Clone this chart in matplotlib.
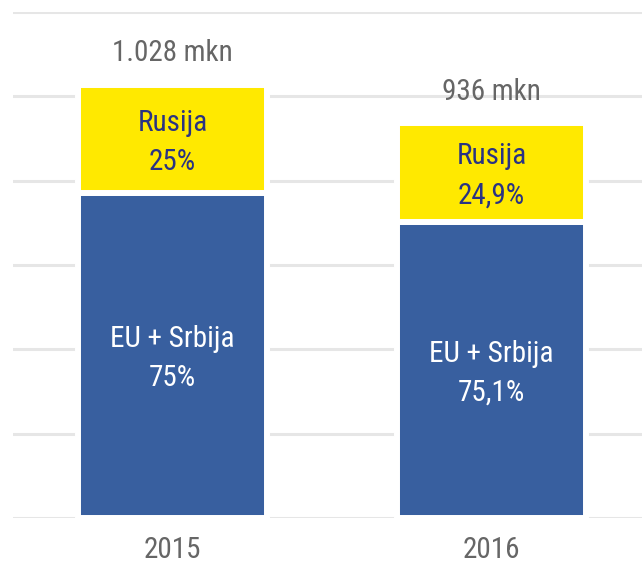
import matplotlib
matplotlib.use("Agg")
import matplotlib.pyplot as plt
from matplotlib import font_manager

years = ["2015", "2016"]
totals = [1028, 936]
eu_share = [75.0, 75.1]
ru_share = [25.0, 24.9]
total_labels = ["1.028 mkn", "936 mkn"]
eu_labels = ["EU + Srbija\n75%", "EU + Srbija\n75,1%"]
ru_labels = ["Rusija\n25%", "Rusija\n24,9%"]
yticks = [0, 200, 400, 600, 800, 1000, 1200]

available = {f.name for f in font_manager.fontManager.ttflist}
family = "Roboto"
for cand in ["Roboto Condensed", "Liberation Sans Narrow"]:
    if cand in available:
        family = cand
        break
plt.rcParams["font.family"] = [family, "DejaVu Sans"]

BLUE = "#385f9f"
YELLOW = "#ffe900"
NAVY = "#2a3383"
GRAY = "#666666"
GRID = "#e6e6e6"

fig = plt.figure(figsize=(6.42, 5.67), dpi=100)
ax = fig.add_axes([13 / 642, 49 / 567, 1 - 13 / 642, (518 - 12) / 567])

x = list(range(len(years)))
eu_vals = [t * s / 100 for t, s in zip(totals, eu_share)]
ru_vals = [t - e for t, e in zip(totals, eu_vals)]

width = 0.593
ax.bar(x, eu_vals, width=width, color=BLUE, edgecolor="white", linewidth=4.3, zorder=2)
ax.bar(x, ru_vals, bottom=eu_vals, width=width, color=YELLOW, edgecolor="white",
       linewidth=4.3, zorder=2)

fs = 21
for i in x:
    ax.annotate(eu_labels[i], (i, eu_vals[i] / 2), xytext=(0, -2.5),
                textcoords="offset points", ha="center", va="center", color="white",
                fontsize=fs, linespacing=1.5, zorder=3)
    ax.annotate(ru_labels[i], (i, eu_vals[i] + ru_vals[i] / 2), xytext=(0, -2.5),
                textcoords="offset points", ha="center", va="center", color=NAVY,
                fontsize=fs, linespacing=1.5, zorder=3)
    ax.annotate(total_labels[i], (i, totals[i]), xytext=(0, 22.5), textcoords="offset points",
                ha="center", va="center", color=GRAY, fontsize=fs, zorder=3)
    ax.annotate(years[i], (i, 0), xytext=(0, -23), textcoords="offset points",
                ha="center", va="center", color=GRAY, fontsize=fs, zorder=3,
                annotation_clip=False)

ax.set_xlim(-0.4995, 1.4716)
ax.set_ylim(0, 1200)
ax.set_yticks(yticks)
ax.set_xticks([])
ax.yaxis.grid(True, color=GRID, linewidth=2.2, zorder=0)
ax.set_axisbelow(True)
ax.tick_params(axis="y", length=0, labelleft=False)
for s in ax.spines.values():
    s.set_visible(False)

fig.savefig("out.png", dpi=100)
